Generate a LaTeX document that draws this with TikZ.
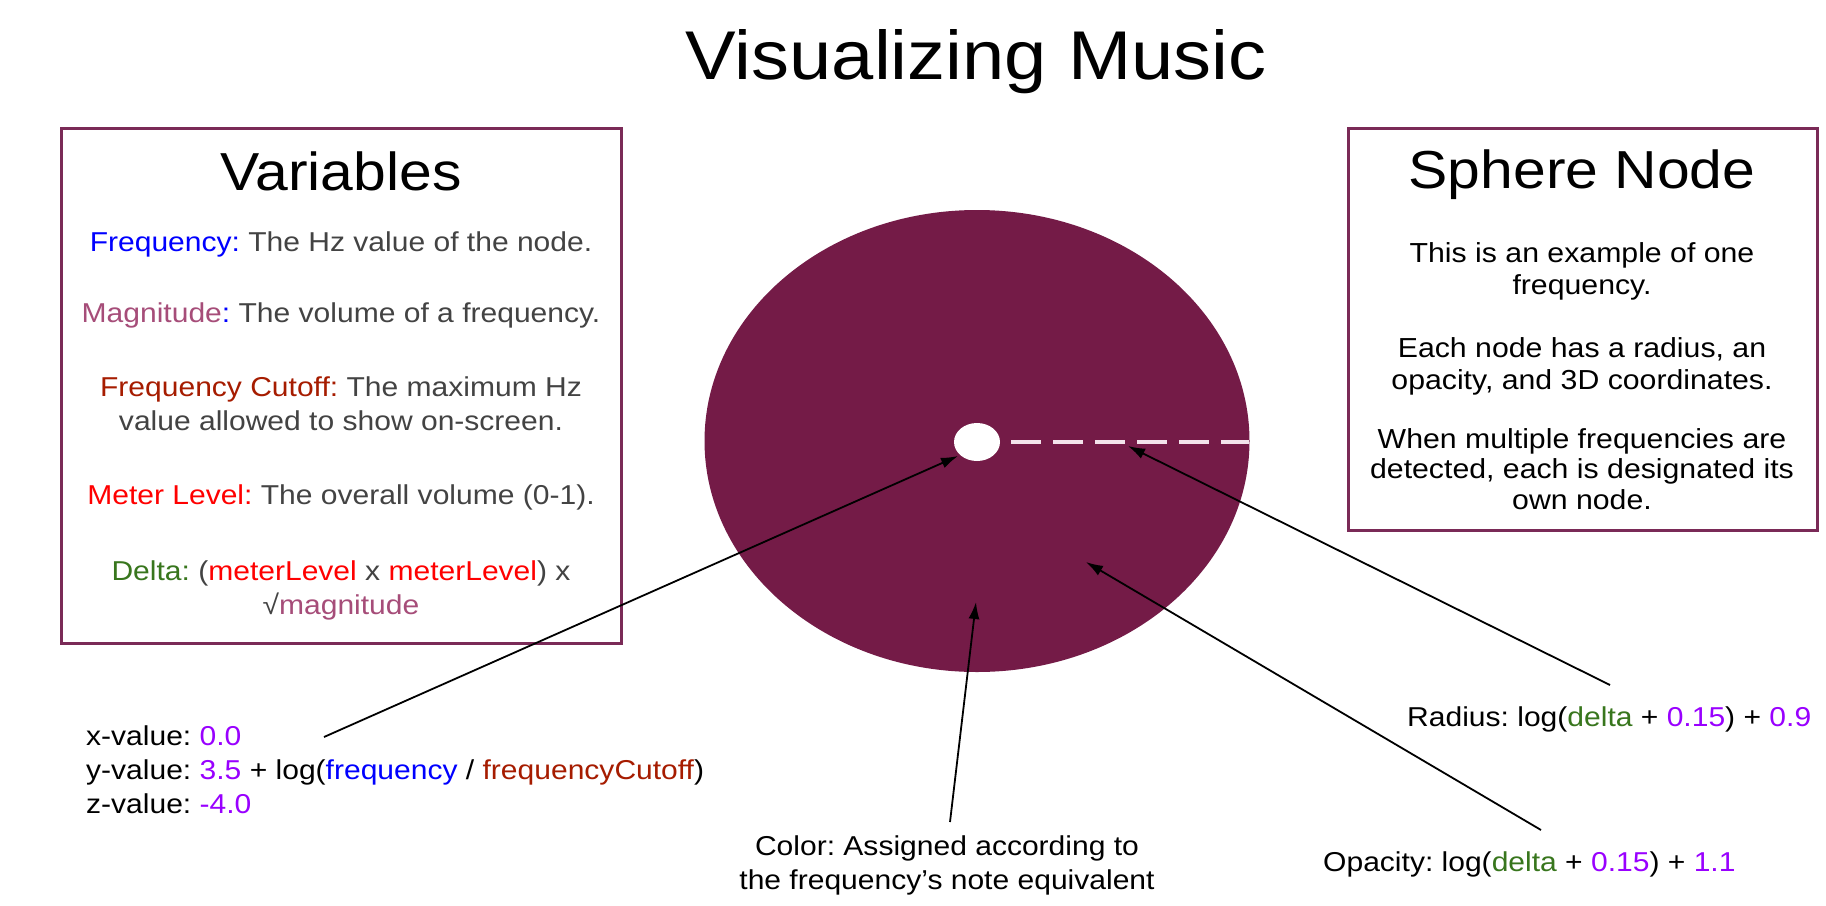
\documentclass[tikz,border=0pt]{standalone}
\usepackage{fontspec}
\setmainfont{Liberation Sans}[FakeStretch=1.1]
\usetikzlibrary{arrows.meta,shapes.geometric}
\frenchspacing
\definecolor{freqblue}{HTML}{0000FF}
\definecolor{magpink}{HTML}{A64D79}
\definecolor{cutred}{HTML}{A61C00}
\definecolor{meterred}{HTML}{FF0000}
\definecolor{deltagreen}{HTML}{38761D}
\definecolor{numpurple}{HTML}{9900FF}
\definecolor{bodygray}{HTML}{434343}
\definecolor{boxline}{HTML}{7A2A57}
\definecolor{spherefill}{HTML}{741B47}
\definecolor{dashcol}{HTML}{F3E3EB}
\begin{document}
\begin{tikzpicture}[x=1pt,y=-1pt,
  titletext/.style={inner sep=0pt,anchor=base,font=\fontsize{69}{80}\selectfont},
  headtext/.style={inner sep=0pt,anchor=base,font=\fontsize{53.5}{60}\selectfont},
  vartext/.style={inner sep=0pt,anchor=base,text=bodygray,font=\fontsize{27.3}{34}\selectfont},
  sphtext/.style={inner sep=0pt,anchor=base,text=black,font=\fontsize{27.5}{31}\selectfont},
  labtext/.style={inner sep=0pt,text=black,font=\fontsize{27.3}{34}\selectfont},
  panel/.style={draw=boxline,line width=3pt},
  arr/.style={draw=black,line width=1.8pt,-{Latex[length=17pt,width=11pt]}}]
\useasboundingbox (0,0) rectangle (1826,905);
\fill[white] (0,0) rectangle (1826,905);

% title
\node[titletext] (title) at (976,79) {Visualizing Music};

% panels
\draw[panel] (61,128) rectangle (621,643);
\draw[panel] (1348,128) rectangle (1817,530);

% Variables panel
\node[headtext] (varhead) at (341,190) {Variables};
\node[vartext] (v1) at (341,251) {\textcolor{freqblue}{Frequency:} The Hz value of the node.};
\node[vartext] (v2) at (341,322) {\textcolor{magpink}{Magnitude}\textcolor{freqblue}{:} The volume of a frequency.};
\node[vartext] (v3a) at (341,396) {\textcolor{cutred}{Frequency Cutoff:} The maximum Hz};
\node[vartext] (v3b) at (341,430) {value allowed to show on-screen.};
\node[vartext] (v4) at (341,504) {\textcolor{meterred}{Meter Level:} The overall volume (0-1).};
\node[vartext] (v5a) at (341,580) {\textcolor{deltagreen}{Delta:} (\textcolor{meterred}{meterLevel} x \textcolor{meterred}{meterLevel}) x};
\node[vartext] (v5b) at (341,614) {√\textcolor{magpink}{magnitude}};

% Sphere Node panel
\node[headtext] (sphhead) at (1582,188) {Sphere Node};
\node[sphtext] (s1a) at (1582,262) {This is an example of one};
\node[sphtext] (s1b) at (1582,294) {frequency.};
\node[sphtext] (s2a) at (1582,357) {Each node has a radius, an};
\node[sphtext] (s2b) at (1582,389) {opacity, and 3D coordinates.};
\node[sphtext] (s3a) at (1582,448) {When multiple frequencies are};
\node[sphtext] (s3b) at (1582,478) {detected, each is designated its};
\node[sphtext] (s3c) at (1582,509) {own node.};

% sphere
\node[ellipse, minimum width=545pt, minimum height=462pt, inner sep=0pt, fill=spherefill] (sphere) at (977,441) {};
\node[ellipse, minimum width=46pt, minimum height=38pt, inner sep=0pt, fill=white] (core) at (977,442) {};
\coordinate (dashstart) at (1011,442);
\coordinate (dashend) at (1249,442);
\draw[dashcol, line width=4pt, dash pattern=on 30pt off 12pt] (dashstart) -- (dashend);

% labels
\node[labtext, anchor=base west] (xv) at (86,745) {x-value: \textcolor{numpurple}{0.0}};
\node[labtext, anchor=base west] (yv) at (86,779) {y-value: \textcolor{numpurple}{3.5} + log(\textcolor{freqblue}{frequency} / \textcolor{cutred}{frequencyCutoff})};
\node[labtext, anchor=base west] (zv) at (86,813) {z-value: \textcolor{numpurple}{-4.0}};
\node[labtext, anchor=base west] (rad) at (1407,726) {Radius: log(\textcolor{deltagreen}{delta} + \textcolor{numpurple}{0.15}) + \textcolor{numpurple}{0.9}};
\node[labtext, anchor=base west] (opa) at (1323,871) {Opacity: log(\textcolor{deltagreen}{delta} + \textcolor{numpurple}{0.15}) + \textcolor{numpurple}{1.1}};
\node[labtext, anchor=base] (col1) at (947,855) {Color: Assigned according to};
\node[labtext, anchor=base] (col2) at (947,889) {the frequency’s note equivalent};

% arrows
\coordinate (pstart) at (324,737);
\coordinate (ptip) at (958,456);
\coordinate (rstart) at (1610,685);
\coordinate (rtip) at (1128,446);
\coordinate (cstart) at (950,822);
\coordinate (ctip) at (976,602);
\coordinate (ostart) at (1541,830);
\coordinate (otip) at (1086,562);
\draw[arr] (pstart) -- (ptip);
\draw[arr] (rstart) -- (rtip);
\draw[arr] (cstart) -- (ctip);
\draw[arr] (ostart) -- (otip);
\end{tikzpicture}
\end{document}
